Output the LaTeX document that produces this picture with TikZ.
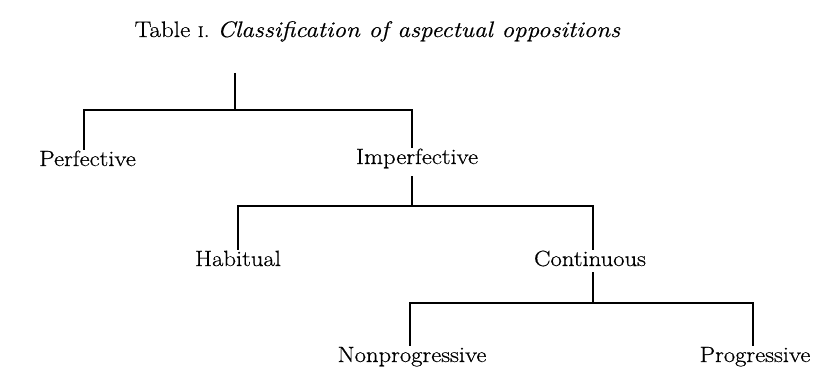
\documentclass[tikz,border=0pt]{standalone}
\usepackage{fontspec}
\setmainfont[FakeStretch=1.12,FakeBold=0.6]{Latin Modern Roman}
\begin{document}
\begin{tikzpicture}[x=1pt,y=-1pt,
  lbl/.style={anchor=base,inner sep=2pt,text height=14pt,text depth=4pt,font=\fontsize{22}{26}\selectfont},
  conn/.style={line width=1.2pt,black}]
\useasboundingbox (0,0) rectangle (825,377);
\node[anchor=base,inner sep=0pt,font=\fontsize{22.4}{26}\selectfont] (title) at (377.5,37) {Table {\fontsize{15.5}{18}\selectfont I}. \textit{Classification of aspectual oppositions}};
\coordinate (root) at (235,73);
\coordinate (b1) at (235,110);
\coordinate (b2) at (412,206);
\coordinate (b3) at (593,303);
\node[lbl] (perf) at (87.5,166) {Perfective};
\node[lbl] (imp) at (417,164) {Imperfective};
\node[lbl] (hab) at (238,266) {Habitual};
\node[lbl] (cont) at (590,266) {Continuous};
\node[lbl] (nonp) at (412,362) {Nonprogressive};
\node[lbl] (prog) at (755,362) {Progressive};
\draw[conn] (root) -- (b1);
\draw[conn] ([xshift=-3.5pt]perf.north) |- (b1) -| ([xshift=-5pt]imp.north);
\draw[conn,shorten <=6pt] ([xshift=-5pt]imp.south) -- (b2);
\draw[conn] (hab.north) |- (b2) -| ([xshift=3pt]cont.north);
\draw[conn] ([xshift=3pt]cont.south) -- (b3);
\draw[conn] ([xshift=-2pt]nonp.north) |- (b3) -| ([xshift=-2pt]prog.north);
\end{tikzpicture}
\end{document}
